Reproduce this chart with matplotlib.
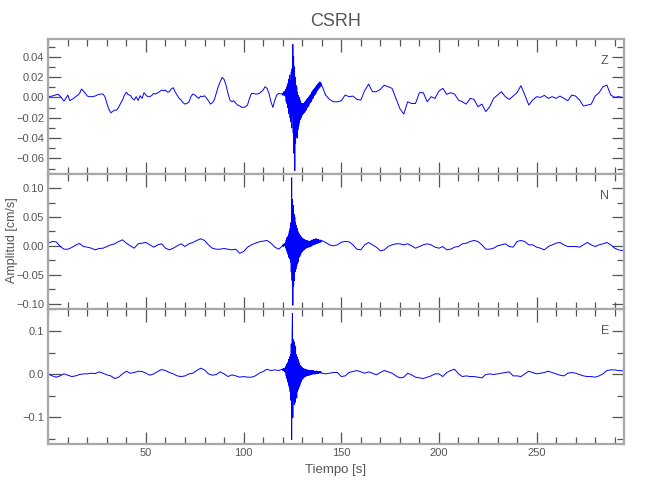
import numpy as np
import matplotlib
matplotlib.use("Agg")
import matplotlib.pyplot as plt
from matplotlib.ticker import MultipleLocator, FixedLocator, FuncFormatter

plt.rcParams['font.family'] = ['Liberation Sans', 'DejaVu Sans']

title = "CSRH"
xlabel = "Tiempo [s]"
ylabel = "Amplitud [cm/s]"
components = ["Z", "N", "E"]
xticks = [50, 100, 150, 200, 250]

# ---- Z component (cm/s) ----
z_pre = [0.0007, 0.001, 0.0013, 0.002, 0.0026, 0.003, 0.0013, -0.001, -0.0036, -0.001,
         0.0023, -0.0033, -0.002, -0.001, 0.0007, 0.002, 0.0039, 0.0082, 0.0062, 0.0039,
         0.0013, 0.0007, 0.0007, 0.001, 0.0013, 0.0023, 0.003, 0.0033, 0.0033, 0.0007,
         -0.0059, -0.0115, -0.0151, -0.0138, -0.0125, -0.0125, -0.0098, -0.0059, -0.0026, 0.0023,
         0.0049, 0.0026, 0.002, -0.001, -0.0026, 0.0007, -0.003, 0.0016, -0.001, 0.0046,
         0.0023, 0.0007, 0.0007, 0.002, 0.0039, 0.0033, 0.0046, 0.0056, 0.0072, 0.0066,
         0.0072, 0.0052, 0.0056, 0.0085, 0.0095, 0.0052, 0.002, -0.001, -0.0026, -0.0052,
         -0.0066, -0.0059, -0.0046, 0.0007, 0.0033, 0.0023, 0.0007, -0.001, 0.0013, 0.0007,
         0.0016, -0.0007, -0.0033, -0.0066, -0.0052, -0.0026, 0.0039, 0.0105, 0.0154, 0.0197,
         0.0177, 0.0121, 0.0039, -0.0026, -0.0043, -0.0033, -0.0059, -0.0075, -0.0085, -0.0098,
         -0.0098, -0.0092, -0.0075, -0.001, 0.0039, 0.0039, 0.0033, 0.0033, 0.0039, 0.0056,
         0.0072, 0.0105, 0.0089, 0.0039, -0.0043, -0.0098, -0.0026, 0.0023, 0.0039, 0.0033]
z_burst = [0.004, 0.002, 0.005, 0.003, 0.006, 0.002, 0.005, 0.001,
           0.008, -0.004, 0.010, -0.006, 0.012, -0.010, 0.014,
           -0.016, 0.018, -0.014, 0.022, -0.020, 0.016,
           -0.024, 0.025, -0.030, 0.028, -0.018,
           0.052, -0.035, 0.040, -0.055, 0.030,
           -0.072, 0.020, -0.045, 0.012, -0.038,
           0.010, -0.040, 0.005, -0.032, 0.002,
           -0.028, 0.000, -0.025, -0.002, -0.022,
           -0.004, -0.020, -0.006, -0.018, -0.006,
           -0.017, -0.007, -0.016, -0.006, -0.015,
           -0.005, -0.014, -0.004, -0.013, -0.003,
           -0.012, -0.002, -0.010, -0.001, -0.009,
           0.000, -0.008, 0.001, -0.006, 0.002,
           -0.005, 0.003, -0.004, 0.005, -0.002,
           0.006, -0.001, 0.007, 0.000, 0.008,
           0.002, 0.009, 0.003, 0.010, 0.004,
           0.011, 0.006, 0.012, 0.007, 0.013,
           0.008, 0.014, 0.009, 0.015, 0.010,
           0.015, 0.011, 0.014, 0.012]
z_post = [0.012, 0.0023, -0.002, -0.0043, -0.0043, -0.0033, 0.0023, 0.0007, 0.0013, -0.002,
          -0.0026, 0.0066, 0.013, 0.0056, 0.0056, 0.0079, 0.012, 0.0105, 0.0089, -0.001,
          -0.011, -0.0164, -0.0043, -0.006, -0.006, 0.0046, 0.0046, -0.0043, 0.0007, -0.001,
          0.0062, 0.0089, 0.003, 0.0046, 0.0033, -0.0026, -0.0043, -0.0066, -0.001, -0.002,
          -0.0092, -0.0066, -0.014, -0.0092, -0.001, 0.0023, 0.0056, 0.0007, -0.002, 0.0013,
          0.0046, 0.0115, 0.0023, -0.0075, -0.0026, 0.0007, 0.0, 0.002, -0.001, 0.0007,
          -0.001, 0.0013, -0.001, -0.0033, 0.0023, 0.0013, -0.0026, -0.0085, -0.0075, -0.0066,
          0.0013, 0.0046, 0.0105, 0.012, 0.0023, 0.0, 0.0007, 0.0]

# ---- N component (cm/s) ----
n_pre = [0.0046, 0.0075, 0.007, -0.0005, -0.0058, -0.0058, -0.0029, 0.0012, 0.0041, -0.0012,
         -0.0023, -0.0041, -0.007, -0.0046, -0.0041, -0.0012, 0.0017, 0.0035, 0.0075, 0.0104,
         0.0046, 0.0, -0.0041, 0.0035, 0.0046, 0.0058, 0.0017, -0.0023, 0.0017, 0.0035,
         -0.0041, -0.007, -0.0041, 0.0, 0.0035, -0.0012, 0.0035, 0.0058, 0.0093, 0.0122,
         0.0093, 0.0017, -0.0041, -0.0058, -0.0058, -0.0046, -0.0058, -0.007, -0.0058, -0.013,
         -0.0099, -0.0023, 0.0017, 0.0046, 0.007, 0.0081, 0.0093, 0.0046, -0.0023, -0.0058]
n_burst = [0.000, 0.002, -0.001, 0.003, 0.000, 0.004, 0.001, 0.005,
           -0.004, 0.010, -0.008, 0.014, -0.012, 0.016, -0.015,
           0.020, -0.020, 0.025, -0.022, 0.030, -0.028,
           0.040, -0.045, 0.118, -0.060, 0.080,
           -0.103, 0.070, -0.070, 0.055, -0.060,
           0.050, -0.045, 0.040, -0.040, 0.035,
           -0.035, 0.030, -0.030, 0.025, -0.028,
           0.022, -0.020, 0.020, -0.018, 0.018,
           -0.015, 0.016, -0.012, 0.014, -0.010,
           0.013, -0.008, 0.012, -0.007, 0.011,
           -0.006, 0.010, -0.005, 0.010, -0.004,
           0.009, -0.003, 0.009, -0.003, 0.008,
           -0.002, 0.008, -0.002, 0.008, -0.001,
           0.008, -0.001, 0.009, 0.000, 0.010,
           0.001, 0.010, 0.002, 0.011, 0.002,
           0.011, 0.003, 0.012, 0.003, 0.012,
           0.004, 0.012, 0.004, 0.011, 0.005,
           0.011, 0.005, 0.010, 0.006, 0.010,
           0.006, 0.010, 0.007, 0.009]
n_post = [0.0093, 0.0058, 0.0017, 0.0, 0.0017, 0.0064, 0.0075, 0.007, 0.0017, -0.0058,
          -0.007, 0.0017, 0.0058, 0.0017, -0.0023, -0.0087, -0.007, -0.0012, 0.0017, 0.0035,
          0.0035, 0.0017, 0.0035, 0.0, -0.0041, -0.0012, 0.0017, 0.0035, 0.0017, -0.0023,
          -0.0041, -0.0012, -0.007, -0.0058, -0.0023, -0.0012, 0.0035, 0.0046, 0.0075, 0.0093,
          0.0075, 0.0017, -0.0058, -0.0058, -0.0041, 0.0, 0.0017, 0.0035, -0.0012, -0.0023,
          0.0075, 0.0093, 0.0075, 0.0017, 0.0017, -0.0023, -0.0041, -0.007, -0.0012, 0.0017,
          0.0046, 0.0058, 0.0017, -0.0012, -0.0012, -0.0012, -0.0023, 0.0017, 0.0058, 0.0017,
          -0.0012, 0.0017, 0.0035, 0.0058, 0.0017, -0.0041, -0.007, -0.0081]

# ---- E component (cm/s) ----
e_pre = [0.0008, -0.0039, -0.0069, -0.0039, 0.0008, -0.0023, -0.0054, -0.0039, -0.0008, 0.0008,
         0.0008, 0.0023, 0.0015, 0.0054, 0.0023, -0.0015, -0.0039, -0.01, -0.0069, 0.0008,
         0.0069, 0.0023, 0.0039, 0.0069, 0.0062, 0.0023, -0.0023, 0.0008, 0.0062, 0.0108,
         0.0085, 0.0039, 0.0008, -0.0039, -0.0054, -0.0039, 0.0008, 0.0023, 0.0085, 0.0139,
         0.01, 0.0008, -0.0023, -0.0008, 0.0054, 0.0008, -0.0054, -0.0015, -0.0039, -0.0069,
         -0.0054, -0.0069, -0.0069, -0.0039, 0.0023, 0.0062, 0.0116, 0.0085, 0.01, 0.0085]
e_burst = [0.012, 0.008, 0.013, 0.009, 0.012, 0.006, 0.014, 0.004,
           0.018, -0.004, 0.022, -0.010, 0.025, -0.018, 0.028,
           -0.025, 0.035, -0.030, 0.040, -0.040, 0.045,
           -0.060, 0.070, -0.151, 0.085, 0.141,
           -0.100, 0.080, -0.060, 0.075, -0.070,
           0.060, -0.065, 0.065, -0.050, 0.045,
           -0.055, 0.040, -0.040, 0.035, -0.035,
           0.030, -0.030, 0.025, -0.025, 0.020,
           -0.020, 0.018, -0.016, 0.016, -0.012,
           0.014, -0.010, 0.013, -0.008, 0.012,
           -0.006, 0.012, -0.005, 0.011, -0.004,
           0.010, -0.004, 0.010, -0.003, 0.009,
           -0.003, 0.009, -0.002, 0.008, -0.002,
           0.008, -0.001, 0.008, 0.000, 0.008,
           0.000, 0.008, 0.001, 0.008, 0.001,
           0.007, 0.000, 0.007, 0.001, 0.007,
           0.001, 0.007, 0.002, 0.007, 0.002,
           0.006, 0.002, 0.006, 0.003, 0.006,
           0.003, 0.006, 0.003, 0.005]
e_post = [0.0023, 0.0008, 0.0023, 0.0039, 0.0039, -0.0054, -0.0039, 0.0039, 0.0062, 0.0085,
          0.0054, 0.0023, 0.0054, 0.0023, -0.0015, 0.0039, 0.0085, 0.0054, 0.0023, -0.0039,
          -0.0085, -0.0069, 0.0023, -0.0015, -0.0069, -0.0085, -0.01, -0.0069, -0.0039, 0.0008,
          0.0008, -0.0054, 0.0039, 0.0085, 0.0116, 0.0008, -0.0054, -0.0039, -0.0054, -0.0054,
          -0.0069, -0.0085, -0.0008, 0.0008, -0.0008, 0.0008, 0.0023, 0.0039, 0.0054, -0.0039,
          -0.0039, -0.0054, 0.0008, 0.0069, 0.0039, 0.0008, 0.0023, 0.0039, 0.0069, 0.0039,
          0.0008, -0.0023, -0.0039, 0.0023, 0.0039, 0.0023, -0.0008, -0.0039, -0.0054, -0.0054,
          -0.0069, -0.0039, 0.0008, 0.0085, 0.01, 0.01, 0.0085, 0.0077]

# sampling of the segments (s): pre-event, burst, post-event
z_pre_dt, n_pre_dt, e_pre_dt = 1.0, 2.0, 2.0
burst_start, burst_dt = 120.0, 0.2
post_start, post_dt = 140.0, 2.0

ylims = [(-0.0756, 0.0571), (-0.110, 0.124), (-0.162, 0.150)]
major_steps = [0.02, 0.05, 0.1]
minor_steps = [0.01, 0.025, 0.05]
ydecimals = [2, 2, 1]
xlim = (0, 294.6)


def build(pre, pre_dt, burst, post):
    t1 = np.arange(len(pre)) * pre_dt
    t2 = burst_start + np.arange(len(burst)) * burst_dt
    t3 = post_start + np.arange(len(post)) * post_dt
    return np.concatenate([t1, t2, t3]), np.concatenate([pre, burst, post])


def make_fmt(nd):
    def f(v, pos):
        s = f"{v:.{nd}f}"
        if s.startswith("-") and float(s) == 0:
            s = s[1:]
        return s.replace("-", "\u2212")
    return FuncFormatter(f)


series = [build(z_pre, z_pre_dt, z_burst, z_post),
          build(n_pre, n_pre_dt, n_burst, n_post),
          build(e_pre, e_pre_dt, e_burst, e_post)]

txt = "#555555"
spine_c = "#a8a8a8"
fig = plt.figure(figsize=(6.5, 5), dpi=100)
left, width, h = 0.0743, 0.8852, 0.27
bottoms = [0.6514, 0.3814, 0.1114]
for i in range(3):
    ax = fig.add_axes([left, bottoms[i], width, h])
    t, v = series[i]
    ax.plot(t, v, color="#0000ff", lw=0.7)
    ax.set_xlim(*xlim)
    ax.set_ylim(*ylims[i])
    ax.xaxis.set_major_locator(FixedLocator(xticks))
    ax.xaxis.set_minor_locator(MultipleLocator(10))
    ax.yaxis.set_major_locator(MultipleLocator(major_steps[i]))
    ax.yaxis.set_minor_locator(MultipleLocator(minor_steps[i]))
    ax.yaxis.set_major_formatter(make_fmt(ydecimals[i]))
    ax.tick_params(which="both", direction="in", top=True, right=True,
                   colors=txt, labelsize=8, width=0.9, pad=3)
    ax.tick_params(which="major", length=9)
    ax.tick_params(which="minor", length=5)
    for s in ax.spines.values():
        s.set_color(spine_c)
        s.set_linewidth(1.6)
    if i < 2:
        ax.tick_params(labelbottom=False)
    ax.text(0.967, 0.84, components[i], transform=ax.transAxes,
            ha="center", va="center", fontsize=9, color=txt)

fig.text(0.517, 0.958, title, ha="center", va="center", fontsize=13, color=txt)
fig.text(0.517, 0.06, xlabel, ha="center", va="center", fontsize=9.5, color=txt)
fig.text(0.018, 0.52, ylabel, ha="center", va="center", rotation=90,
         fontsize=9, color=txt)

fig.savefig("out.png", dpi=100)
